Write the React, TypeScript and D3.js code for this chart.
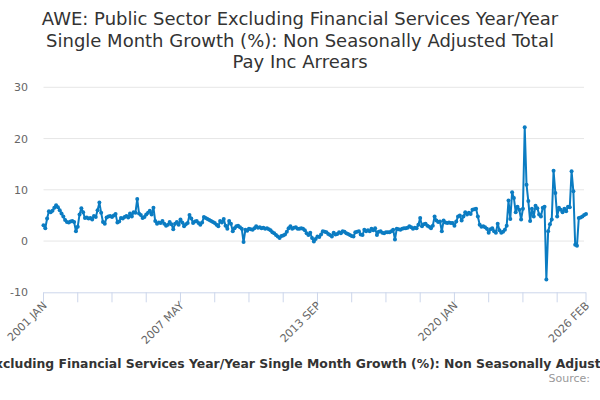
import { useLayoutEffect, useRef, useState } from 'react'
import * as d3 from 'd3'

const W = 600, H = 400
const FONT = '"DejaVu Sans", sans-serif'
const LINE = '#0b7cc2'

const TITLE_LINES = [
  'AWE: Public Sector Excluding Financial Services Year/Year',
  'Single Month Growth (%): Non Seasonally Adjusted Total',
  'Pay Inc Arrears',
]
const SERIES_NAME =
  'AWE: Public Sector Excluding Financial Services Year/Year Single Month Growth (%): Non Seasonally Adjusted Total Pay Inc Arrears'

const MONTHS = ['JAN', 'FEB', 'MAR', 'APR', 'MAY', 'JUN', 'JUL', 'AUG', 'SEP', 'OCT', 'NOV', 'DEC']
const START_YEAR = 2001

// monthly values, one row per year (2001 .. 2026 FEB)
const VALUES: number[] = [
  3.1, 2.5, 4.4, 5.8, 5.6, 5.9, 6.5, 7.0, 6.6, 6.0, 5.4, 4.8,
  4.1, 3.7, 3.6, 3.8, 3.9, 3.7, 1.9, 2.8, 5.2, 6.4, 5.6, 4.5,
  4.6, 4.4, 4.5, 4.2, 4.9, 4.7, 6.0, 7.5, 5.5, 3.7, 3.4, 4.6,
  4.8, 4.9, 4.7, 5.0, 5.3, 3.6, 3.8, 4.5, 4.4, 4.7, 4.9, 4.6,
  5.4, 4.8, 5.6, 5.5, 8.2, 5.4, 5.1, 4.5, 4.7, 5.2, 5.5, 5.9,
  5.2, 6.5, 3.9, 3.4, 3.6, 3.5, 3.9, 3.4, 3.0, 3.2, 3.7, 3.3,
  2.3, 3.4, 3.7, 3.2, 4.2, 3.6, 2.9, 3.3, 3.5, 5.1, 4.4, 3.5,
  3.8, 3.9, 3.5, 3.2, 3.6, 4.7, 4.5, 4.3, 4.1, 3.9, 3.7, 3.5,
  3.2, 2.9, 3.9, 3.6, 4.3, 3.0, 2.4, 3.9, 3.4, 1.9, 2.5, 2.9,
  3.0, 2.7, 2.4, -0.2, 2.2, 2.0, 2.4, 2.3, 2.2, 2.5, 2.9, 2.6,
  2.7, 2.5, 2.6, 2.4, 2.5, 2.3, 2.1, 1.7, 1.5, 1.2, 0.9, 0.6,
  1.0, 1.1, 1.3, 1.8, 2.5, 2.9, 2.4, 2.6, 2.7, 2.4, 2.4, 2.5,
  2.4, 2.1, 1.5, 1.2, 1.6, 0.6, -0.1, 0.4, 0.9, 0.8, 1.3, 1.9,
  1.8, 1.7, 1.4, 1.2, 0.9, 1.6, 1.3, 1.4, 1.7, 1.5, 1.9, 1.8,
  1.5, 1.4, 1.2, 1.0, 0.9, 1.7, 1.8, 1.9, 1.3, 1.2, 2.2, 1.9,
  2.1, 1.9, 2.4, 2.1, 2.5, 1.2, 1.8, 1.9, 1.6, 1.5, 1.7, 1.7,
  1.7, 1.9, 2.2, 0.3, 2.4, 2.3, 2.2, 2.4, 2.5, 2.5, 2.6, 2.9,
  2.7, 2.4, 2.6, 2.5, 3.2, 4.5, 2.9, 3.3, 3.4, 3.0, 2.8, 2.5,
  3.0, 4.8, 4.0, 3.7, 3.8, 1.9, 4.0, 3.6, 3.5, 3.6, 3.5, 3.5,
  3.0, 3.8, 4.8, 5.0, 4.0, 4.8, 5.6, 5.2, 5.5, 5.3, 6.1, 6.2,
  6.3, 4.8, 3.2, 2.8, 2.9, 2.7, 2.4, 1.6, 2.3, 2.5, 1.9, 1.6,
  3.4, 2.1, 1.6, 1.8, 2.2, 3.0, 7.9, 4.3, 9.5, 8.4, 5.6, 6.7,
  6.1, 4.2, 6.3, 22.2, 11.0, 7.8, 3.9, 6.3, 4.8, 6.9, 6.4, 5.2,
  4.8, 6.5, 6.7, -7.5, 1.9, 3.3, 4.2, 13.7, 9.4, 4.8, 6.5, 6.1,
  5.6, 6.3, 5.8, 6.7, 6.6, 13.6, 9.7, -0.7, -0.9, 4.5, 4.6, 4.8,
  5.1, 5.3,
]

const Y_TICKS = [-10, 0, 10, 20, 30]
const TICK_EVERY = 19
const LABELLED = ['2001 JAN', '2007 MAY', '2013 SEP', '2020 JAN', '2026 FEB']

const CATS = VALUES.map((_, i) => `${START_YEAR + Math.floor(i / 12)} ${MONTHS[i % 12]}`)

export default function App() {
  const legendRef = useRef<SVGTextElement>(null)
  const [legendX, setLegendX] = useState(-140)

  useLayoutEffect(() => {
    const el = legendRef.current
    if (!el) return
    // first 21 chars ("AWE: Public Sector Ex") sit off the left edge
    const pre = el.getSubStringLength(0, 21)
    setLegendX(-pre + 3)
  }, [])

  const x = d3.scalePoint<string>().domain(CATS).range([43.5, 586])
  const y = d3.scaleLinear().domain([-10, 30]).range([292.3, 87.3])

  const tickIdx = d3.range(0, CATS.length, TICK_EVERY)
  if (tickIdx[tickIdx.length - 1] !== CATS.length - 1) tickIdx.push(CATS.length - 1)

  const line = d3.line<number>().x((_, i) => x(CATS[i])!).y((d) => y(d))

  return (
    <svg width={W} height={H} style={{ display: 'block', position: 'absolute', left: 0, top: 0, background: '#fff' }} fontFamily={FONT}>
      {TITLE_LINES.map((t, i) => (
        <text key={i} x={300} y={25 + i * 21.5} textAnchor="middle" fontSize={18} fill="#333">{t}</text>
      ))}

      {Y_TICKS.map((t) => (
        <g key={t}>
          {t !== -10 && <line x1={43.5} x2={584} y1={y(t)} y2={y(t)} stroke="#e6e6e6" />}
          <text x={28} y={y(t) + 4} textAnchor="end" fontSize={11} fill="#666">{t}</text>
        </g>
      ))}

      <line x1={43.5} x2={586} y1={y(-10) + 0.5} y2={y(-10) + 0.5} stroke="#ccd6eb" />
      {tickIdx.map((i) => (
        <line key={i} x1={x(CATS[i])} x2={x(CATS[i])} y1={y(-10)} y2={y(-10) + 10} stroke="#ccd6eb" />
      ))}
      {LABELLED.map((c) => (
        <text key={c} transform={`translate(${x(c)! + 4},${y(-10) + 14}) rotate(-45)`} textAnchor="end" fontSize={11} fill="#666">{c}</text>
      ))}

      <path d={line(VALUES) ?? ''} fill="none" stroke={LINE} strokeWidth={2} strokeLinejoin="round" />
      {VALUES.map((v, i) => (
        <circle key={i} cx={x(CATS[i])} cy={y(v)} r={2} fill={LINE} />
      ))}

      <text ref={legendRef} x={legendX} y={368} fontSize={12.4} fontWeight="bold" fill="#333">{SERIES_NAME}</text>
      <text x={590} y={382} textAnchor="end" fontSize={11} fill="#999">Source:</text>
    </svg>
  )
}
